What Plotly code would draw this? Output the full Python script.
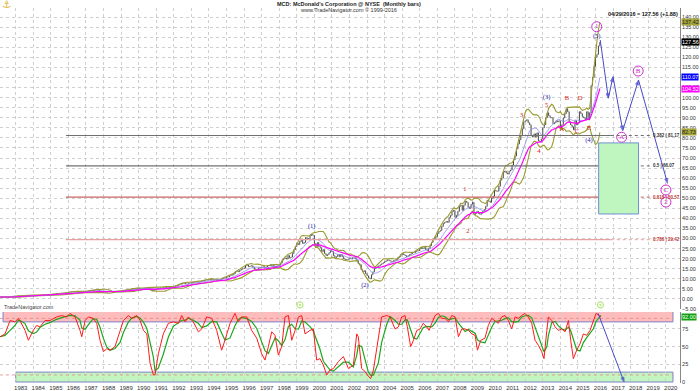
import numpy as np
import pandas as pd
import plotly.graph_objects as go

# ---------------- DATA ----------------
# Monthly closes (Jan of each year .. Dec), MCD, as drawn on the chart
c1980 = [0.70,0.70,0.66,0.70,0.72,0.75,0.78,0.80,0.78,0.80,0.82,0.80]
c1981 = [0.82,0.85,0.88,0.90,0.92,0.90,0.88,0.85,0.82,0.85,0.88,0.90]
c1982 = [0.90,0.88,0.90,0.95,0.95,0.92,0.95,1.05,1.15,1.20,1.30,1.35]
c1983 = [1.40,1.45,1.50,1.55,1.60,1.70,1.65,1.60,1.65,1.60,1.70,1.75]
c1984 = [1.75,1.70,1.65,1.70,1.75,1.80,1.85,1.95,2.00,2.05,2.10,2.15]
c1985 = [2.20,2.30,2.35,2.40,2.50,2.60,2.70,2.75,2.70,2.80,2.95,3.05]
c1986 = [3.20,3.40,3.50,3.55,3.60,3.50,3.40,3.45,3.30,3.50,3.55,3.60]
c1987 = [3.70,3.90,4.10,4.00,4.10,4.20,4.40,4.50,4.50,3.40,3.30,3.40]
c1988 = [3.40,3.50,3.40,3.50,3.60,3.70,3.60,3.50,3.60,3.70,3.80,3.90]
c1989 = [4.00,4.10,4.20,4.30,4.50,4.60,4.80,5.00,5.10,5.20,5.10,5.20]
c1990 = [5.10,5.00,5.10,5.30,5.40,5.50,5.60,5.00,4.50,4.00,4.30,4.50]
c1991 = [4.80,5.10,5.30,5.50,5.60,5.50,5.70,5.80,5.70,5.90,5.60,5.90]
c1992 = [6.30,6.50,6.60,7.00,7.20,7.40,7.70,7.60,7.80,7.90,7.80,7.90]
c1993 = [8.00,8.20,8.40,8.60,8.50,8.30,8.60,8.90,9.10,9.30,9.50,9.40]
c1994 = [9.60,9.80,9.50,9.40,9.50,9.30,9.20,9.50,9.80,10.3,10.4,10.5]
c1995 = [10.8,11.0,11.5,11.8,12.0,12.6,13.5,13.8,13.5,14.2,14.8,15.0]
c1996 = [15.3,16.5,16.8,16.0,16.3,16.5,15.8,15.0,14.5,14.8,15.5,15.6]
c1997 = [15.8,16.0,15.5,15.8,16.4,16.6,17.0,16.2,16.5,15.8,16.2,16.5]
c1998 = [17.0,17.8,19.5,20.0,20.3,19.8,21.5,20.5,20.8,22.5,24.5,26.0]
c1999 = [27.5,27.0,28.5,29.5,27.5,28.0,30.5,30.0,29.5,31.5,32.0,31.5]
c2000 = [27.5,26.0,28.0,26.0,25.5,23.5,24.5,22.5,21.5,22.0,23.0,24.0]
c2001 = [23.5,21.5,20.5,21.0,22.0,21.0,22.0,21.0,20.0,19.5,19.5,19.8]
c2002 = [20.0,19.8,20.5,20.5,20.0,19.0,17.5,17.0,14.5,13.5,14.0,12.5]
c2003 = [11.5,10.5,10.0,12.0,13.5,15.0,15.5,16.0,16.5,17.0,17.5,18.0]
c2004 = [18.5,19.0,19.5,19.0,18.8,18.5,19.0,19.2,19.5,20.5,21.0,22.0]
c2005 = [22.5,22.0,21.5,21.0,21.5,22.0,22.5,23.0,23.0,23.5,24.0,24.0]
c2006 = [25.0,25.5,25.0,25.5,24.5,24.0,25.0,26.5,28.0,29.5,30.0,31.0]
c2007 = [32.5,33.5,34.0,36.0,37.5,38.0,38.5,38.0,40.5,41.5,43.5,44.0]
c2008 = [40.5,41.5,43.5,46.0,46.5,44.0,46.5,48.5,48.0,45.5,45.0,47.0]
c2009 = [48.0,42.0,42.5,43.5,42.5,42.0,42.5,43.5,44.5,46.0,49.0,48.5]
c2010 = [48.0,50.0,51.0,54.0,53.5,53.5,56.0,59.0,60.0,63.0,63.5,62.5]
c2011 = [62.0,63.5,64.0,66.5,69.0,71.0,74.5,77.0,79.0,81.0,84.5,88.0]
c2012 = [88.5,89.0,87.5,86.5,81.0,80.5,82.0,80.5,82.5,78.5,78.0,79.5]
c2013 = [85.0,86.5,90.0,92.5,91.0,90.0,90.0,87.0,87.5,88.5,88.0,88.5]
c2014 = [84.5,86.5,90.0,92.0,94.5,93.0,88.0,86.5,85.5,84.0,88.5,86.5]
c2015 = [87.5,93.0,92.0,90.5,90.0,89.0,93.0,89.0,92.5,106.0,110.0,115.5]
c2016 = [120.0,121.5,125.68,127.56]
first_year = 1980

# Oscillator (0-100), read at these decimal years
osc_years = [1982.11,1982.39,1982.68,1982.96,1983.15,1983.28,1983.53,1983.72,1984.00,1984.19,
             1984.38,1984.67,1984.95,1985.33,1985.62,1985.90,1986.09,1986.38,1986.66,1986.76,
             1986.95,1987.14,1987.42,1987.61,1987.80,1987.99,1988.18,1988.37,1988.65,1988.94,
             1989.13,1989.41,1989.60,1989.89,1990.08,1990.27,1990.46,1990.65,1990.84,1990.93,
             1991.12,1991.40,1991.69,1991.97,1992.26,1992.45,1992.64,1992.83,1993.11,1993.40,
             1993.59,1993.87,1994.16,1994.44,1994.72,1994.91,1995.20,1995.48,1995.67,1995.86,
             1996.15,1996.43,1996.72,1997.00,1997.19,1997.38,1997.57,1997.76,1997.95,1998.14,
             1998.33,1998.52,1998.71,1998.90,1999.09,1999.28,1999.47,1999.75,1999.94,2000.13,
             2000.32,2000.51,2000.70,2000.89,2001.08,2001.37,2001.65,2001.94,
             2002.03,2002.22,2002.41,2002.50,2002.69,2002.88,2003.07,2003.21,2003.36,2003.64,
             2003.83,2004.12,2004.31,2004.59,2004.78,2004.97,2005.16,2005.29,2005.48,2005.64,
             2005.83,2006.01,2006.20,2006.39,2006.53,2006.68,2006.87,2007.06,2007.25,2007.44,
             2007.63,2007.82,2008.01,2008.20,2008.39,2008.58,2008.77,2008.96,2009.15,2009.28,
             2009.47,2009.71,2009.90,2010.09,2010.28,2010.47,2010.66,2010.85,2011.04,2011.23,
             2011.42,2011.61,2011.80,2011.99,2012.18,2012.37,2012.56,2012.75,2012.94,2013.07,
             2013.23,2013.32,2013.51,2013.70,2013.89,2014.08,2014.27,2014.46,2014.59,2014.74,
             2014.93,2015.12,2015.31,2015.50,2015.69,2015.88,2016.03,2016.22,2016.30]
osc_values = [64,68,87,85,90,85,73,59,73,80,
              78,87,87,92,94,92,97,92,73,64,
              87,92,90,83,59,43,47,45,50,73,
              87,94,90,94,87,73,68,26,10,10,
              40,68,83,85,83,94,85,92,85,71,
              75,92,90,73,45,59,83,97,85,92,
              92,73,62,40,31,50,71,66,38,50,
              92,94,59,73,92,94,68,73,75,31,
              33,24,10,17,19,29,36,19,
              21,24,68,64,19,15,8,5,17,59,
              92,94,92,75,78,92,94,78,50,59,
              73,75,83,78,73,83,94,97,90,90,
              85,94,92,64,75,75,73,68,66,45,
              59,62,80,90,87,83,92,94,87,75,
              92,90,94,97,92,83,59,52,43,33,
              73,92,87,78,73,75,71,87,59,33,
              45,54,68,66,73,87,97,94,92]

# Fibonacci retracement levels
fib_ratios = ["0.382", "0.5", "0.618", "0.786"]
fib_prices = [81.17, 66.07, 50.57, 29.42]
fib_colors = ["#707070", "#707070", "#c86464", "#eaa0a0"]
fib_span = [1985.86, 2016.87, 2019.15]   # solid start, dotted start, label

# Projected wave path
proj_years = [2016.27, 2016.73, 2017.00, 2017.55, 2018.45, 2020.10]
proj_prices = [128.6, 99.7, 110.4, 83.6, 108.7, 57.4]
osc_proj_years = [2016.15, 2017.63]
osc_proj_values = [97, 0]

# Target box
box_years = [2016.18, 2018.45]
box_prices = [42.2, 77.5]

# Elliott wave labels
blue_lbl = ["(1)", "(2)", "(3)", "(4)", "(5)"]
blue_x = [1999.85, 2002.88, 2013.22, 2015.63, 2016.07]
blue_y = [35.9, 6.9, 100.0, 78.8, 130.2]
red_lbl = ["1", "2", "3", "4", "5", "A", "B", "C", "D", "E"]
red_x = [2008.57, 2008.74, 2011.80, 2012.78, 2013.22, 2014.08, 2014.38, 2014.95, 2015.12, 2015.63]
red_y = [54.6, 33.4, 91.4, 73.1, 96.3, 84.4, 99.7, 83.4, 99.7, 84.6]
circ_lbl = ["1", "A", "B", "C", "2"]
circ_x = [2016.07, 2017.49, 2018.43, 2020.01, 2020.01]
circ_y = [135.2, 80.3, 113.2, 54.1, 48.1]

# divergence markers
div_years = [1999.18, 2016.28]

years_axis = list(range(1983, 2021))

# ---------------- BUILD ----------------
closes = (c1980 + c1981 + c1982 + c1983 + c1984 + c1985 + c1986 + c1987 + c1988 + c1989 +
          c1990 + c1991 + c1992 + c1993 + c1994 + c1995 + c1996 + c1997 + c1998 + c1999 +
          c2000 + c2001 + c2002 + c2003 + c2004 + c2005 + c2006 + c2007 + c2008 + c2009 +
          c2010 + c2011 + c2012 + c2013 + c2014 + c2015 + c2016)
n = len(closes)
xs = [first_year + i / 12 for i in range(n)]
s = pd.Series(closes, dtype=float)
opens = s.shift(1).fillna(s.iloc[0])
highs = np.maximum(opens, s)
lows = np.minimum(opens, s)

mid = s.rolling(10, min_periods=1).mean()
sd = s.rolling(10, min_periods=1).std(ddof=0)
upper = mid + 2 * sd
lower = mid - 2 * sd
ema = s.ewm(span=20, adjust=False).mean()

osc_s = pd.Series(osc_values, dtype=float)
osc_slow = osc_s.rolling(3, min_periods=1).mean()

FONT = "Liberation Sans"
SERIF = "Liberation Serif"

fig = go.Figure()

# price bars
fig.add_trace(go.Ohlc(x=xs, open=opens, high=highs, low=lows, close=s,
                      increasing_line_color="#444444", decreasing_line_color="#444444",
                      line_width=1, tickwidth=0.3, xaxis="x", yaxis="y", showlegend=False,
                      hoverinfo="skip"))
# bollinger + MAs
fig.add_trace(go.Scatter(x=xs, y=upper, mode="lines", line=dict(color="#9a9a30", width=1.1),
                         xaxis="x", yaxis="y", showlegend=False))
fig.add_trace(go.Scatter(x=xs, y=lower, mode="lines", line=dict(color="#9a9a30", width=1.1),
                         xaxis="x", yaxis="y", showlegend=False))
fig.add_trace(go.Scatter(x=xs, y=mid, mode="lines", line=dict(color="#8c8ce6", width=0.8),
                         xaxis="x", yaxis="y", showlegend=False))
fig.add_trace(go.Scatter(x=xs, y=ema, mode="lines", line=dict(color="#ff00ff", width=1.2),
                         xaxis="x", yaxis="y", showlegend=False))

shapes = []
annotations = []

# target box
shapes.append(dict(type="rect", xref="x", yref="y", x0=box_years[0], x1=box_years[1],
                   y0=box_prices[0], y1=box_prices[1], fillcolor="#bff5bf",
                   line=dict(color="#6f8fd0", width=1), layer="above"))

# fib lines
for r, p, c in zip(fib_ratios, fib_prices, fib_colors):
    fig.add_trace(go.Scatter(x=[fib_span[0], fib_span[1]], y=[p, p], mode="lines",
                             line=dict(color=c, width=1.2), xaxis="x", yaxis="y", showlegend=False))
    fig.add_trace(go.Scatter(x=[fib_span[1], fib_span[2]], y=[p, p], mode="lines",
                             line=dict(color=c, width=1, dash="dot"), xaxis="x", yaxis="y",
                             showlegend=False))
    tc = "#333333" if c == "#707070" else "#c03030"
    annotations.append(dict(x=fib_span[2], y=p, xref="x", yref="y", xanchor="left",
                            yanchor="middle", showarrow=False,
                            text="<b>%s | %.2f</b>" % (r, p),
                            font=dict(family=FONT, size=4.5, color=tc)))

# projection
fig.add_trace(go.Scatter(x=proj_years, y=proj_prices, mode="lines+markers",
                         line=dict(color="#4a4ac8", width=1),
                         marker=dict(symbol="arrow", angleref="previous",
                                     size=[0] + [5] * (len(proj_years) - 1), color="#1a1ad0"),
                         xaxis="x", yaxis="y", showlegend=False))

# wave labels
fig.add_trace(go.Scatter(x=blue_x, y=blue_y, mode="text", text=blue_lbl,
                         textfont=dict(family=SERIF, size=6.5, color="#1a1aa8"),
                         xaxis="x", yaxis="y", showlegend=False))
fig.add_trace(go.Scatter(x=red_x, y=red_y, mode="text", text=red_lbl,
                         textfont=dict(family=SERIF, size=6.5, color="#e01010"),
                         xaxis="x", yaxis="y", showlegend=False))
fig.add_trace(go.Scatter(x=circ_x, y=circ_y, mode="markers+text", text=circ_lbl,
                         marker=dict(symbol="circle-open", size=10,
                                     line=dict(color="#d030d0", width=1), color="#d030d0"),
                         textposition="middle center",
                         textfont=dict(family=SERIF, size=7, color="#c020c0"),
                         xaxis="x", yaxis="y", showlegend=False))
# divergence markers
fig.add_trace(go.Scatter(x=div_years, y=[-3, -3], mode="markers",
                         marker=dict(symbol="circle-open-dot", size=6,
                                     line=dict(color="#66bcd8", width=1.2)),
                         xaxis="x", yaxis="y", showlegend=False))

# oscillator bands
shapes.append(dict(type="rect", xref="x", yref="y2", x0=1982.28, x1=2020.41, y0=85, y1=100,
                   fillcolor="#ffbcbc", line=dict(color="#8080c8", width=1), layer="below"))
shapes.append(dict(type="rect", xref="x", yref="y2", x0=1983.0, x1=2020.41, y0=0, y1=14,
                   fillcolor="#c2f5c0", line=dict(color="#8080c8", width=1), layer="below"))
fig.add_trace(go.Scatter(x=[1982.1, 2020.41], y=[90, 90], mode="lines",
                         line=dict(color="#e88080", width=0.8, dash="dot"),
                         xaxis="x", yaxis="y2", showlegend=False))
fig.add_trace(go.Scatter(x=[1982.1, 2020.41], y=[10, 10], mode="lines",
                         line=dict(color="#e88080", width=0.8, dash="dot"),
                         xaxis="x", yaxis="y2", showlegend=False))

fig.add_trace(go.Scatter(x=osc_years, y=osc_slow, mode="lines",
                         line=dict(color="#1aa81a", width=1.2), xaxis="x", yaxis="y2",
                         showlegend=False))
fig.add_trace(go.Scatter(x=osc_years, y=osc_values, mode="lines",
                         line=dict(color="#ff1a1a", width=1), xaxis="x", yaxis="y2",
                         showlegend=False))
fig.add_trace(go.Scatter(x=osc_proj_years, y=osc_proj_values, mode="lines+markers",
                         line=dict(color="#4a4ac8", width=1),
                         marker=dict(symbol="arrow", angleref="previous", size=[0, 5],
                                     color="#1a1ad0"),
                         xaxis="x", yaxis="y2", showlegend=False))

# right-side value boxes
last_vals = [(upper.iloc[-1], "#a5a53a", "#222222"),
             (s.iloc[-1], "#000000", "#ffffff"),
             (mid.iloc[-1], "#0000ff", "#ffffff"),
             (ema.iloc[-1], "#ff00ff", "#ffffff"),
             (lower.iloc[-1], "#a5a53a", "#222222")]
for v, bg, fc in last_vals:
    annotations.append(dict(x=1.002, y=v, xref="paper", yref="y", xanchor="left",
                            yanchor="middle", showarrow=False, text="%.2f" % v,
                            bgcolor=bg, borderpad=0,
                            font=dict(family=FONT, size=5.5, color=fc)))
annotations.append(dict(x=1.002, y=osc_values[-1], xref="paper", yref="y2", xanchor="left",
                        yanchor="middle", showarrow=False, text="%.2f" % osc_values[-1],
                        bgcolor="#10a010", borderpad=0,
                        font=dict(family=FONT, size=5.5, color="#ffffff")))

# header texts
H = 383.0
annotations.append(dict(x=349 / 680, y=(H - 4) / H, xref="paper", yref="paper",
                        xanchor="center", yanchor="middle", showarrow=False,
                        text="<b>MCD: McDonald's Corporation @ NYSE  (Monthly bars)</b>",
                        font=dict(family=FONT, size=5.5, color="#222222")))
annotations.append(dict(x=349 / 680, y=(H - 10) / H, xref="paper", yref="paper",
                        xanchor="center", yanchor="middle", showarrow=False,
                        text="www.TradeNavigator.com © 1999-2016",
                        font=dict(family=FONT, size=5.5, color="#333333")))
annotations.append(dict(x=643 / 680, y=(H - 14) / H, xref="paper", yref="paper",
                        xanchor="center", yanchor="middle", showarrow=False,
                        text="<b>04/29/2016 = %.2f (+%.2f)</b>" % (s.iloc[-1], s.iloc[-1] - s.iloc[-2]),
                        font=dict(family=FONT, size=5.5, color="#111111")))
annotations.append(dict(x=2 / 680, y=(H - 307) / H, xref="paper", yref="paper",
                        xanchor="left", yanchor="middle", showarrow=False,
                        text="TradeNavigator.com",
                        font=dict(family=FONT, size=5.5, color="#444444")))
annotations.append(dict(x=6 / 680, y=(H - 5) / H, xref="paper", yref="paper",
                        xanchor="center", yanchor="middle", showarrow=False,
                        text="⚓", font=dict(family="DejaVu Sans", size=10, color="#d8b020")))

grid = "#cfcfcf"
fig.update_layout(
    width=700, height=391,
    margin=dict(l=0, r=20, t=0, b=8),
    paper_bgcolor="white", plot_bgcolor="white",
    showlegend=False,
    shapes=shapes, annotations=annotations,
    xaxis=dict(domain=[0, 1], anchor="y2", range=[1982.106, 2020.81],
               tickvals=years_axis, ticktext=[str(y) for y in years_axis],
               ticklabelshift=5, showgrid=True, gridcolor=grid, griddash="dot", gridwidth=1,
               tickfont=dict(family=FONT, size=6, color="#333333"), ticks="",
               zeroline=False, showline=False, rangeslider=dict(visible=False)),
    yaxis=dict(domain=[(H - 309) / H, (H - 8) / H], anchor="x", side="right",
               range=[-5, 144.5], tick0=0, dtick=5, tickformat=".2f",
               showgrid=True, gridcolor=grid, griddash="dot", gridwidth=1,
               tickfont=dict(family=FONT, size=5.5, color="#333333"), ticks="",
               zeroline=False, showline=True, linecolor="#888888", linewidth=1),
    yaxis2=dict(domain=[0, (H - 312) / H], anchor="x", side="right",
                range=[-1.4, 99.0], tickvals=[0, 25, 50, 75],
                showgrid=True, gridcolor=grid, griddash="dot", gridwidth=1,
                tickfont=dict(family=FONT, size=5.5, color="#333333"), ticks="",
                zeroline=False, showline=True, linecolor="#888888", linewidth=1),
)
annotations_extra = dict(x=1.002, y=100, xref="paper", yref="y2", xanchor="left",
                         yanchor="top", showarrow=False, text="100",
                         font=dict(family=FONT, size=5.5, color="#333333"))
fig.add_annotation(annotations_extra)

fig.write_html("out.html")
